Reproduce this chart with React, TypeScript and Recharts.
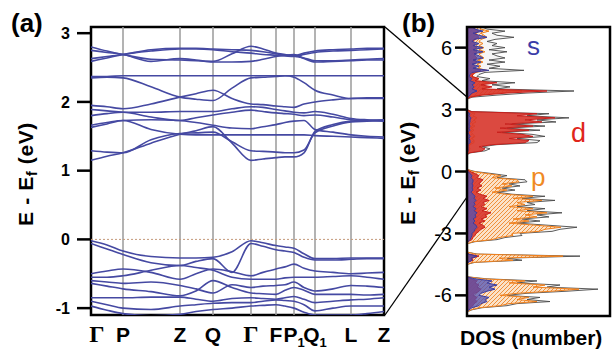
import React from 'react';
import { LineChart, Line, XAxis, YAxis, ReferenceLine, ReferenceArea, ComposedChart, Area } from 'recharts';

// ---------- Panel (a): band structure ----------
const kPos = [0, 16, 32, 60, 89, 105, 122, 141, 160, 172, 185, 194, 203, 213, 224, 242, 260, 276, 293];
const hspPos = [0, 32, 89, 122, 160, 185, 203, 224, 260, 293];
const hspLabels = ['Γ', 'P', 'Z', 'Q', 'Γ', 'F', 'P', 'Q', 'L', 'Z'];
const hspSubs = ['', '', '', '', '', '', '1', '1', '', ''];
const bandTicks = [-1, 0, 1, 2, 3];

const c1 = [2.80, 2.74, 2.69, 2.62, 2.61, 2.60, 2.59, 2.70, 2.81, 2.77, 2.71, 2.69, 2.67, 2.64, 2.60, 2.60, 2.61, 2.62, 2.63];
const c2 = [2.75, 2.72, 2.69, 2.59, 2.63, 2.61, 2.58, 2.58, 2.59, 2.62, 2.66, 2.68, 2.69, 2.63, 2.58, 2.59, 2.60, 2.61, 2.61];
const c3 = [2.63, 2.66, 2.69, 2.76, 2.78, 2.78, 2.77, 2.76, 2.75, 2.73, 2.70, 2.68, 2.67, 2.71, 2.74, 2.76, 2.77, 2.78, 2.78];
const c4 = [2.59, 2.64, 2.69, 2.74, 2.77, 2.77, 2.76, 2.73, 2.71, 2.69, 2.68, 2.67, 2.66, 2.69, 2.72, 2.74, 2.75, 2.76, 2.77];
const c5 = [2.37, 2.37, 2.38, 2.38, 2.38, 2.38, 2.38, 2.38, 2.38, 2.38, 2.38, 2.38, 2.38, 2.38, 2.38, 2.38, 2.38, 2.38, 2.38];
const c6 = [2.35, 2.36, 2.35, 2.22, 2.07, 2.04, 2.02, 2.20, 2.35, 2.36, 2.37, 2.38, 2.36, 2.28, 2.17, 2.10, 2.05, 2.05, 2.05];
const c7 = [1.95, 1.93, 1.90, 1.97, 2.07, 2.12, 2.17, 2.05, 1.97, 1.96, 1.94, 1.93, 1.92, 1.97, 2.00, 2.03, 2.05, 2.06, 2.06];
const c8 = [1.89, 1.87, 1.85, 1.85, 1.86, 1.86, 1.86, 1.90, 1.93, 1.92, 1.89, 1.87, 1.85, 1.84, 1.86, 1.82, 1.76, 1.74, 1.73];
const c9 = [1.80, 1.83, 1.85, 1.78, 1.73, 1.77, 1.81, 1.85, 1.88, 1.86, 1.84, 1.83, 1.82, 1.80, 1.81, 1.78, 1.74, 1.73, 1.72];
const c10 = [1.66, 1.70, 1.73, 1.60, 1.53, 1.52, 1.52, 1.52, 1.52, 1.52, 1.52, 1.52, 1.52, 1.52, 1.51, 1.50, 1.49, 1.48, 1.47];
const c11 = [1.63, 1.68, 1.73, 1.74, 1.73, 1.70, 1.66, 1.62, 1.61, 1.64, 1.67, 1.70, 1.72, 1.73, 1.60, 1.56, 1.52, 1.50, 1.49];
const c12 = [1.29, 1.27, 1.26, 1.45, 1.54, 1.55, 1.56, 1.42, 1.29, 1.28, 1.27, 1.26, 1.26, 1.30, 1.55, 1.65, 1.71, 1.72, 1.73];
const c13 = [1.15, 1.21, 1.26, 1.40, 1.53, 1.58, 1.64, 1.40, 1.15, 1.17, 1.19, 1.20, 1.20, 1.26, 1.57, 1.67, 1.72, 1.73, 1.74];

const v1 = [-0.02, -0.08, -0.17, -0.25, -0.27, -0.27, -0.26, -0.18, -0.02, -0.05, -0.09, -0.11, -0.13, -0.21, -0.28, -0.28, -0.27, -0.27, -0.27];
const v2 = [-0.06, -0.14, -0.22, -0.34, -0.38, -0.32, -0.28, -0.48, -0.06, -0.10, -0.15, -0.17, -0.19, -0.26, -0.30, -0.30, -0.29, -0.28, -0.28];
const v3 = [-0.50, -0.46, -0.43, -0.48, -0.58, -0.50, -0.43, -0.47, -0.53, -0.48, -0.43, -0.40, -0.36, -0.42, -0.46, -0.48, -0.50, -0.49, -0.48];
const v4 = [-0.55, -0.55, -0.53, -0.45, -0.38, -0.41, -0.45, -0.55, -0.58, -0.58, -0.58, -0.56, -0.55, -0.55, -0.55, -0.54, -0.53, -0.55, -0.58];
const v5 = [-0.60, -0.62, -0.64, -0.62, -0.67, -0.72, -0.78, -0.66, -0.70, -0.68, -0.67, -0.66, -0.62, -0.70, -0.75, -0.72, -0.67, -0.68, -0.70];
const v6 = [-0.64, -0.68, -0.72, -0.76, -0.82, -0.75, -0.60, -0.70, -0.78, -0.79, -0.80, -0.74, -0.70, -0.74, -0.80, -0.80, -0.80, -0.81, -0.80];
const v7 = [-0.85, -0.85, -0.85, -0.84, -0.84, -0.87, -0.90, -0.86, -0.85, -0.86, -0.87, -0.85, -0.83, -0.87, -0.92, -0.90, -0.88, -0.87, -0.85];
const v8 = [-0.90, -0.95, -1.00, -1.02, -0.97, -0.95, -0.93, -0.92, -0.92, -0.90, -0.88, -0.89, -0.90, -0.95, -1.04, -1.00, -0.97, -0.97, -0.97];
const v9 = [-0.97, -1.03, -1.08, -1.11, -1.09, -1.05, -1.02, -1.00, -0.97, -0.96, -0.95, -0.97, -1.00, -1.06, -1.10, -1.10, -1.10, -1.08, -1.05];

const bands = [c1, c2, c3, c4, c5, c6, c7, c8, c9, c10, c11, c12, c13, v1, v2, v3, v4, v5, v6, v7, v8, v9];

const bandData = kPos.map((k, i) => {
  const row: Record<string, number> = { k };
  bands.forEach((b, j) => {
    row['b' + j] = b[i];
  });
  return row;
});

// ---------- Panel (b): DOS ----------
const dosEnergy = [
  7.0, 6.9, 6.8, 6.7, 6.6, 6.5, 6.4, 6.3, 6.2, 6.1,
  6.0, 5.9, 5.8, 5.7, 5.6, 5.5, 5.4, 5.3, 5.2, 5.1,
  5.0, 4.9, 4.8, 4.7, 4.6, 4.5, 4.4, 4.3, 4.2, 4.1,
  4.0, 3.9, 3.8, 3.7, 3.6, 3.5, 3.4, 3.3, 3.2, 3.1,
  3.0, 2.9, 2.8, 2.7, 2.6, 2.5, 2.4, 2.3, 2.2, 2.1,
  2.0, 1.9, 1.8, 1.7, 1.6, 1.5, 1.4, 1.3, 1.2, 1.1,
  1.0, 0.9, 0.8, 0.7, 0.6, 0.5, 0.4, 0.3, 0.2, 0.1,
  0.0, -0.1, -0.2, -0.3, -0.4, -0.5, -0.6, -0.7, -0.8, -0.9,
  -1.0, -1.1, -1.2, -1.3, -1.4, -1.5, -1.6, -1.7, -1.8, -1.9,
  -2.0, -2.1, -2.2, -2.3, -2.4, -2.5, -2.6, -2.7, -2.8, -2.9,
  -3.0, -3.1, -3.2, -3.3, -3.4, -3.5, -3.6, -3.7, -3.8, -3.9,
  -4.0, -4.1, -4.2, -4.3, -4.4, -4.5, -4.6, -4.7, -4.8, -4.9,
  -5.0, -5.1, -5.2, -5.3, -5.4, -5.5, -5.6, -5.7, -5.8, -5.9,
  -6.0, -6.1, -6.2, -6.3, -6.4, -6.5, -6.6, -6.7, -6.8, -6.9,
  -7.0,
];
const dosTotal = [
  15, 20, 38, 25, 30, 47, 28, 20, 30, 25,
  38, 22, 40, 25, 30, 38, 22, 38, 20, 33,
  22, 57, 18, 12, 10, 23, 15, 48, 25, 43,
  30, 107, 60, 30, 5, 0, 0, 0, 0, 0,
  0, 5, 82, 60, 102, 70, 89, 45, 78, 40,
  73, 35, 65, 78, 50, 73, 70, 30, 15, 23,
  18, 3, 0, 0, 0, 0, 0, 0, 0, 0,
  8, 25, 40, 30, 58, 60, 42, 53, 35, 48,
  30, 45, 78, 55, 88, 60, 68, 50, 78, 60,
  95, 70, 82, 55, 73, 50, 80, 110, 93, 85,
  53, 55, 38, 30, 8, 0, 0, 0, 0, 0,
  10, 113, 40, 55, 8, 0, 0, 0, 0, 0,
  0, 0, 20, 70, 50, 93, 80, 131, 100, 60,
  40, 73, 60, 83, 50, 40, 15, 5, 0, 0,
  0,
];
const dosP = [
  12, 14, 22, 14, 17, 20, 14, 12, 16, 12,
  17, 12, 18, 12, 14, 17, 11, 16, 10, 14,
  11, 20, 9, 6, 5, 12, 8, 22, 12, 20,
  14, 55, 30, 12, 2, 0, 0, 0, 0, 0,
  0, 1, 8, 6, 10, 7, 9, 5, 8, 4,
  7, 4, 6, 8, 5, 7, 7, 3, 2, 3,
  2, 0, 0, 0, 0, 0, 0, 0, 0, 0,
  6, 20, 34, 25, 50, 52, 35, 45, 28, 40,
  25, 38, 66, 46, 75, 50, 58, 42, 66, 50,
  80, 58, 70, 46, 62, 42, 68, 94, 78, 72,
  45, 46, 32, 25, 6, 0, 0, 0, 0, 0,
  8, 96, 32, 46, 6, 0, 0, 0, 0, 0,
  0, 0, 16, 58, 42, 78, 66, 112, 85, 50,
  33, 62, 50, 70, 42, 33, 12, 4, 0, 0,
  0,
];
const dosD = [
  6, 8, 12, 8, 10, 12, 8, 6, 8, 7,
  10, 6, 10, 7, 8, 10, 6, 10, 6, 8,
  6, 14, 8, 6, 5, 12, 8, 30, 14, 25,
  15, 80, 40, 15, 3, 0, 0, 0, 0, 0,
  0, 4, 70, 50, 88, 58, 75, 38, 66, 33,
  62, 30, 55, 66, 42, 62, 58, 25, 12, 18,
  15, 2, 0, 0, 0, 0, 0, 0, 0, 0,
  3, 8, 12, 10, 16, 14, 12, 15, 10, 14,
  9, 13, 20, 16, 22, 16, 18, 14, 20, 15,
  24, 18, 20, 14, 18, 12, 16, 18, 14, 12,
  9, 8, 6, 5, 1, 0, 0, 0, 0, 0,
  2, 12, 5, 6, 1, 0, 0, 0, 0, 0,
  0, 0, 4, 10, 8, 12, 10, 14, 12, 8,
  6, 10, 8, 10, 7, 6, 3, 1, 0, 0,
  0,
];
const dosS = [
  5, 8, 16, 6, 12, 20, 7, 5, 12, 6,
  16, 6, 16, 7, 12, 16, 6, 14, 5, 12,
  6, 22, 5, 3, 2, 5, 3, 8, 5, 7,
  5, 10, 5, 3, 1, 0, 0, 0, 0, 0,
  0, 0, 3, 2, 4, 3, 3, 2, 3, 2,
  3, 1, 2, 3, 2, 3, 3, 1, 1, 1,
  1, 0, 0, 0, 0, 0, 0, 0, 0, 0,
  1, 3, 5, 4, 6, 6, 5, 6, 5, 6,
  4, 6, 8, 7, 9, 7, 8, 6, 9, 7,
  10, 8, 9, 6, 8, 6, 9, 10, 8, 7,
  5, 5, 4, 3, 1, 0, 0, 0, 0, 0,
  1, 10, 4, 5, 1, 0, 0, 0, 0, 0,
  0, 0, 8, 25, 20, 30, 22, 28, 20, 14,
  12, 22, 18, 20, 14, 12, 5, 2, 0, 0,
  0,
];
const dosTicks = [-6, -3, 0, 3, 6];

const dosData = dosEnergy.map((e, i) => ({ e, total: dosTotal[i], p: dosP[i], d: dosD[i], s: dosS[i] }));

const SANS = 'Liberation Sans, Arial, sans-serif';
const SERIF = 'Liberation Serif, Times New Roman, serif';
const BAND_COLOR = '#4549a2';

const KTick = (props: any) => {
  const { x, y, payload } = props;
  const i = hspPos.indexOf(payload.value);
  const lab = hspLabels[i];
  const sub = hspSubs[i];
  const isGamma = lab === 'Γ';
  return (
    <text
      x={x + (i === 0 ? 6 : 0)}
      y={y + 27}
      textAnchor="middle"
      fontFamily={isGamma ? SERIF : SANS}
      fontWeight="bold"
      fontSize={isGamma ? 24 : 21}
      fill="#000"
    >
      {lab}
      {sub ? (
        <tspan fontSize={13} dy={5}>
          {sub}
        </tspan>
      ) : null}
    </text>
  );
};

const YLabel = ({ x, y }: { x: number; y: number }) => (
  <text
    x={x}
    y={y}
    transform={`rotate(-90 ${x} ${y})`}
    textAnchor="middle"
    fontFamily={SANS}
    fontWeight="bold"
    fontSize={21}
    letterSpacing={0.6}
    fill="#000"
  >
    E - E
    <tspan fontSize={15} dy={4}>
      f
    </tspan>
    <tspan dy={-4}> (eV)</tspan>
  </text>
);

export default function App() {
  return (
    <div style={{ position: 'absolute', left: 0, top: 0, width: 614, height: 350, background: '#fff', overflow: 'hidden' }}>
      <div style={{ position: 'absolute', left: 0, top: 0 }}>
        <LineChart width={390} height={350} data={bandData} margin={{ top: 27, right: 6, bottom: 5, left: 0 }}>
          <XAxis
            type="number"
            dataKey="k"
            domain={[0, 293]}
            ticks={hspPos}
            interval={0}
            tick={<KTick />}
            tickLine={false}
            axisLine={false}
            tickSize={0}
            tickMargin={0}
            height={30}
            allowDataOverflow
          />
          <YAxis
            type="number"
            domain={[-1.1, 3.09]}
            ticks={bandTicks}
            interval={0}
            allowDataOverflow
            width={91}
            tickSize={14}
            tickMargin={7}
            axisLine={false}
            tickLine={{ stroke: '#000', strokeWidth: 2.5 }}
            tick={{ fill: '#000', fontSize: 16, fontWeight: 'bold', fontFamily: SANS }}
          />
          {hspPos.slice(1, hspPos.length - 1).map((p) => (
            <ReferenceLine key={'v' + p} x={p} stroke="#9a9a9a" strokeWidth={1.5} />
          ))}
          <ReferenceLine y={0} stroke="#c49a7a" strokeWidth={1} strokeDasharray="2 2" />
          {bands.map((_, j) => (
            <Line
              key={'b' + j}
              dataKey={'b' + j}
              type="monotone"
              stroke={BAND_COLOR}
              strokeWidth={1.6}
              dot={false}
              activeDot={false}
              isAnimationActive={false}
            />
          ))}
          <ReferenceArea x1={0} x2={293} y1={-1.1} y2={3.09} fill="none" stroke="#000" strokeWidth={2.5} ifOverflow="visible" />
        </LineChart>
      </div>

      <div style={{ position: 'absolute', left: 390, top: 0 }}>
        <ComposedChart width={224} height={350} data={dosData} layout="vertical" margin={{ top: 27, right: 4, bottom: 34, left: 0 }}>
          <defs>
            <pattern id="hatch" patternUnits="userSpaceOnUse" width={4} height={4}>
              <rect width={4} height={4} fill="#fbe2c8" />
              <path d="M0,4 L4,0 M-1,1 L1,-1 M3,5 L5,3" stroke="#f0903a" strokeWidth={1} />
            </pattern>
          </defs>
          <XAxis type="number" domain={[0, 143]} hide allowDataOverflow />
          <YAxis
            type="number"
            dataKey="e"
            domain={[-7, 7]}
            reversed
            ticks={dosTicks}
            interval={0}
            allowDataOverflow
            width={77}
            tickSize={12}
            tickMargin={3}
            axisLine={false}
            tickLine={{ stroke: '#000', strokeWidth: 2.5 }}
            tick={{ fill: '#000', fontSize: 20, fontFamily: SANS }}
          />
          <Area dataKey="total" type="linear" stroke="#4a4a4a" strokeWidth={0.9} fill="#f6f6f6" fillOpacity={1} isAnimationActive={false} />
          <Area dataKey="p" type="linear" stroke="#f0801c" strokeWidth={1} fill="url(#hatch)" fillOpacity={1} isAnimationActive={false} />
          <Area dataKey="d" type="linear" stroke="#c8201c" strokeWidth={1} fill="#d8362c" fillOpacity={0.9} isAnimationActive={false} />
          <Area dataKey="s" type="linear" stroke="#3a3ca0" strokeWidth={1} fill="#5052b4" fillOpacity={0.75} isAnimationActive={false} />
          <ReferenceArea x1={0} x2={143} y1={-7} y2={7} fill="none" stroke="#000" strokeWidth={2.5} ifOverflow="visible" />
        </ComposedChart>
      </div>

      <svg width={614} height={350} style={{ position: 'absolute', left: 0, top: 0, pointerEvents: 'none' }}>
        <line x1={385} y1={27} x2={467} y2={97} stroke="#000" strokeWidth={1.3} />
        <line x1={385} y1={315} x2={467} y2={197} stroke="#000" strokeWidth={1.3} />
        <text x={11} y={32} fontFamily={SANS} fontWeight="bold" fontSize={26} fill="#000">(a)</text>
        <text x={402} y={32} fontFamily={SANS} fontWeight="bold" fontSize={26} fill="#000">(b)</text>
        <YLabel x={33} y={174} />
        <YLabel x={415} y={173} />
        <text x={460} y={345} fontFamily={SANS} fontWeight="bold" fontSize={21} fill="#000">DOS (number)</text>
        <text x={527} y={55} fontFamily={SANS} fontSize={26} fill="#3a3ca8">s</text>
        <text x={571} y={142} fontFamily={SANS} fontSize={27} fill="#e0261c">d</text>
        <text x={531} y={186} fontFamily={SANS} fontSize={26} fill="#f08a24">p</text>
      </svg>
    </div>
  );
}
